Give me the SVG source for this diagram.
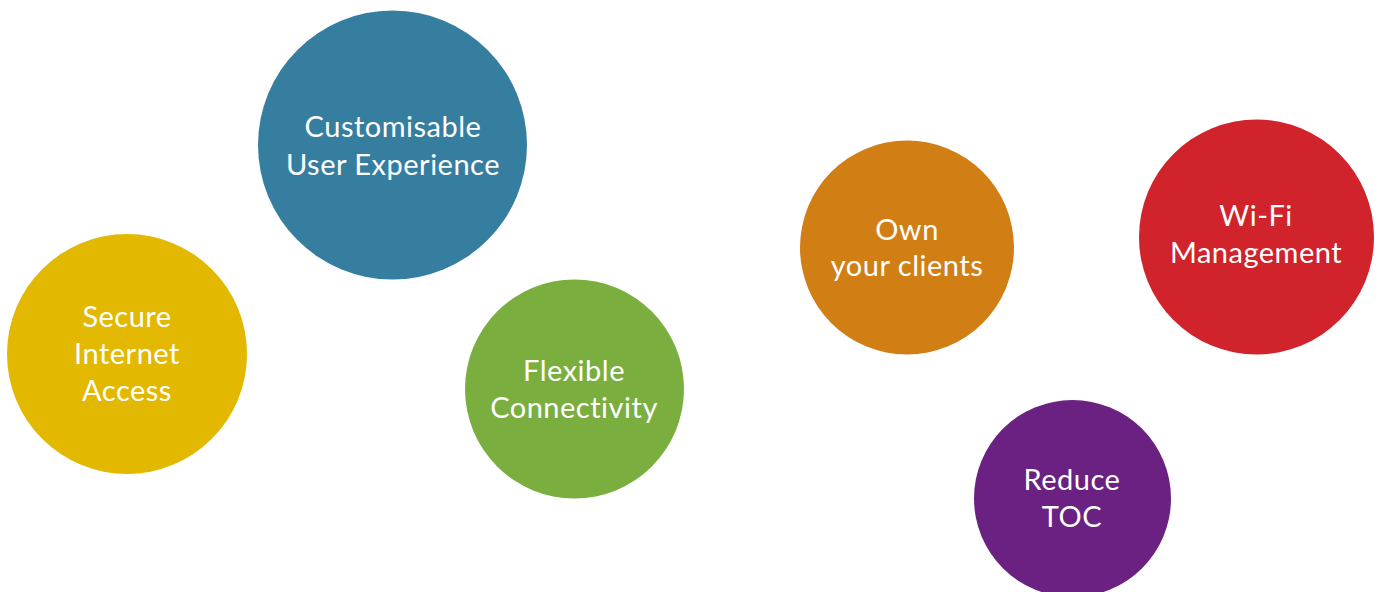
<svg xmlns="http://www.w3.org/2000/svg" width="1380" height="592" viewBox="0 0 1380 592">
<style>
text{font-family:Lato,"Open Sans","DejaVu Sans",sans-serif;font-size:29px;letter-spacing:0.5px;fill:#ffffff;text-anchor:middle}
</style>
<rect width="1380" height="592" fill="#ffffff"/>
<g id="node-blue"><circle cx="392.5" cy="145" r="134.5" fill="#367EA0"/><text x="393" y="137">Customisable</text><text x="393" y="175">User Experience</text></g>
<g id="node-yellow"><circle cx="127" cy="354" r="120" fill="#E2B900"/><text x="127" y="327">Secure</text><text x="127" y="364">Internet</text><text x="127" y="401">Access</text></g>
<g id="node-green"><circle cx="574.5" cy="389" r="109.5" fill="#7AAE3E"/><text x="574" y="381">Flexible</text><text x="574" y="418">Connectivity</text></g>
<g id="node-orange"><circle cx="907" cy="247.5" r="107" fill="#D17E15"/><text x="907" y="240">Own</text><text x="907" y="276">your clients</text></g>
<g id="node-red"><circle cx="1256.5" cy="237" r="117.5" fill="#D0232B"/><text x="1256" y="226">Wi-Fi</text><text x="1256" y="263">Management</text></g>
<g id="node-purple"><circle cx="1072.5" cy="498.5" r="98.5" fill="#6A2181"/><text x="1072" y="490">Reduce</text><text x="1072" y="527">TOC</text></g>
<g id="connectors"></g>
</svg>
